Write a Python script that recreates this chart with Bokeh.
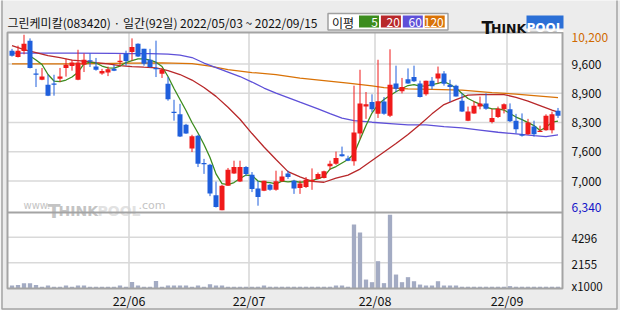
import numpy as np
from bokeh.plotting import figure
from bokeh.models import Range1d
from bokeh.core.properties import value
from bokeh.embed import file_html
from bokeh.resources import INLINE

# ---------------- data ----------------
title_text = "그린케미칼(083420) · 일간(92일) 2022/05/03 ~ 2022/09/15"
legend_title = "이평"
ma_periods = ["5", "20", "60", "120"]

opens = [9850, 9710, 9840, 10070, 9340, 9210, 9100, 9120, 9230, 9470,
         9510, 9210, 9540, 9630, 9500, 9350, 9370, 9450, 9600, 9780,
         9820, 10000, 9890, 9650, 9460, 9340, 9120, 8500, 8450, 8220,
         7700, 7980, 7370, 7340, 6670, 6340, 6880, 7150, 6970, 7290,
         7120, 6820, 6770, 6900, 6790, 6980, 7150, 6990, 6830, 6850,
         6980, 7030, 7050, 7310, 7360, 7570, 7480, 7420, 8030, 8620,
         8720, 8460, 8730, 8420, 9130, 8960, 9220, 9270, 9130, 8890,
         9190, 9240, 9350, 9100, 9080, 8750, 8310, 8470, 8620, 8690,
         8280, 8390, 8560, 8560, 8310, 8000, 8010, 8180, 8060, 8100,
         8100, 8530]
highs = [9890, 9960, 10200, 10120, 9450, 9470, 9320, 9320, 9470, 9670,
         9650, 9870, 9790, 9790, 9690, 9450, 9500, 9540, 9770, 9850,
         10120, 10010, 9890, 9890, 10070, 9470, 9270, 8770, 8680, 8240,
         8000, 8000, 7470, 7360, 6970, 6900, 7270, 7430, 7430, 7310,
         7180, 6980, 6990, 6920, 7210, 7210, 7210, 7010, 6990, 7070,
         7260, 7170, 7210, 7430, 7630, 7740, 7540, 9080, 9430, 8940,
         8890, 9650, 8830, 9880, 9520, 9250, 9460, 9520, 9190, 9190,
         9270, 9500, 9400, 9210, 9100, 8910, 8620, 8740, 8840, 8910,
         8570, 8620, 8690, 8690, 8460, 8470, 8350, 8310, 8200, 8450,
         8510, 8590]
lows = [9720, 9700, 9770, 9460, 9050, 9200, 8850, 8860, 9160, 9280,
        9410, 9200, 9380, 9490, 9410, 9320, 9290, 9400, 9500, 9520,
        9630, 9710, 9520, 9470, 9270, 9250, 8750, 8310, 7950, 8020,
        7620, 7290, 7140, 6650, 6400, 6340, 6880, 7140, 6960, 7090,
        6740, 6440, 6760, 6770, 6770, 6960, 7030, 6700, 6700, 6830,
        6790, 7020, 7040, 7230, 7340, 7520, 7420, 7320, 7910, 8350,
        8500, 8370, 8440, 8390, 8940, 8910, 9120, 9160, 8820, 8860,
        9000, 9130, 9080, 8720, 8840, 8500, 8300, 8460, 8560, 8550,
        8250, 8370, 8470, 8280, 8030, 7960, 8000, 7960, 8060, 8090,
        8030, 8370]
closes = [9740, 9850, 10000, 9470, 9320, 9280, 8860, 9100, 9280, 9540,
          9590, 9590, 9650, 9610, 9430, 9400, 9440, 9410, 9620, 9620,
          9930, 9720, 9560, 9490, 9440, 9430, 8780, 8480, 7960, 8030,
          7970, 7360, 7350, 6710, 6410, 6880, 7230, 7290, 7290, 7140,
          6810, 6630, 6990, 6790, 6980, 7080, 7070, 6820, 6930, 7010,
          7010, 7140, 7200, 7360, 7490, 7530, 7430, 8050, 8690, 8670,
          8560, 8740, 8460, 9100, 9010, 9050, 9130, 9180, 8830, 9190,
          9070, 9350, 9120, 9050, 8840, 8510, 8510, 8640, 8690, 8570,
          8370, 8570, 8670, 8300, 8120, 7980, 8270, 8010, 8080, 8420,
          8450, 8420]
volumes = [250, 300, 450, 450, 300, 150, 250, 150, 150, 250,
           150, 250, 250, 150, 150, 150, 150, 150, 250, 150,
           550, 250, 150, 150, 620, 150, 250, 250, 250, 250,
           150, 250, 150, 350, 250, 250, 150, 150, 150, 150,
           150, 150, 250, 150, 150, 150, 150, 150, 150, 150,
           150, 150, 150, 150, 250, 250, 150, 5360, 4690, 750,
           530, 2290, 450, 6190, 1170, 530, 950, 610, 330, 250,
           250, 610, 250, 250, 250, 150, 150, 150, 150, 150,
           150, 150, 150, 200, 150, 150, 150, 150, 150, 150,
           150, 150]

ma5_idx = list(range(3, 92))
ma5 = [9732, 9644, 9545, 9325, 9182, 9171, 9204, 9270, 9376, 9560,
       9596, 9578, 9512, 9472, 9468, 9512, 9589, 9633, 9670, 9670,
       9644, 9596, 9501, 9281, 9017, 8775, 8533, 8269, 8038, 7785,
       7499, 7140, 6927, 6905, 6949, 7037, 7114, 7103, 6982, 6956,
       6949, 6920, 6982, 6964, 6978, 6956, 6971, 6993, 7037, 7081,
       7246, 7301, 7378, 7455, 7580, 7895, 8203, 8478, 8665, 8775,
       8863, 8947, 9017, 9083, 9105, 9072, 9076, 9105, 9131, 9171,
       9105, 9028, 8907, 8797, 8731, 8676, 8606, 8570, 8570, 8544,
       8467, 8390, 8335, 8269, 8203, 8093, 8166, 8276, 8302]
ma20_idx = [0, 2, 4, 6, 8, 10, 12, 14, 16, 18, 20, 22, 24, 26, 28, 30, 32, 34,
            36, 38, 40, 42, 44, 46, 48, 50, 52, 54, 56, 58, 60, 62, 64, 66,
            68, 70, 72, 74, 76, 78, 80, 82, 84, 86, 88, 90, 91]
ma20 = [9963, 9875, 9809, 9743, 9699, 9644, 9622, 9589, 9560, 9523, 9501,
        9486, 9472, 9413, 9325, 9204, 9039, 8845, 8606, 8342, 8027, 7730,
        7455, 7190, 7075, 6976, 6956, 7048, 7114, 7246, 7433, 7620, 7807,
        8005, 8225, 8460, 8665, 8775, 8874, 8885, 8885, 8885, 8824, 8742,
        8643, 8544, 8496]
ma60_idx = [0, 10, 17, 20, 23, 26, 28, 30, 32, 34, 36, 38, 40, 42, 44, 46, 48,
            51, 53, 55, 57, 60, 63, 66, 69, 72, 75, 78, 81, 84, 87, 89, 91]
ma60 = [9794, 9794, 9790, 9787, 9787, 9776, 9754, 9699, 9578, 9479, 9380,
        9281, 9160, 9028, 8918, 8819, 8716, 8570, 8467, 8368, 8313, 8276,
        8247, 8218, 8218, 8181, 8152, 8104, 8056, 8020, 7983, 7961, 7998]
ma120_idx = [0, 10, 20, 25, 30, 33, 36, 40, 44, 48, 52, 56, 60, 62, 66, 70,
             75, 80, 84, 88, 91]
ma120 = [9560, 9560, 9578, 9582, 9567, 9512, 9435, 9369, 9325, 9248, 9193,
         9134, 9076, 9039, 9010, 8999, 8984, 8929, 8896, 8852, 8819]

month_start_idx = [20, 40, 61, 83]
month_labels = ["22/06", "22/07", "22/08", "22/09"]
price_grid_labels = ["9,600", "8,900", "8,300", "7,600", "7,000"]
vol_grid = [4296, 2155]
vol_unit_label = "x1000"

# ---------------- layout / style ----------------
W, H = 620, 310
PX0, PX1, PY0, PSEP, PY1 = 7, 562, 32, 212, 288
STEP, X0 = 6.0, 11.5
SY_TOP, SY_BOT = 34.25, 209.75
VOL_PX = 83.8

UP, DOWN = "#f01a1a", "#1f5fdc"
VOL_C = "#a3abc3"
MA_COLORS = ["#3c8c1e", "#b8282a", "#5e50d8", "#d97206"]
BORDER = "#a4a4a4"
GRID = "#d9d9d9"
BG = "#ececec"
FONT = value("Noto Sans CJK KR")

pmax, pmin = max(highs), min(lows)
k = (pmax - pmin) / (SY_BOT - SY_TOP)
n_grid = len(price_grid_labels) + 1
price_grid = [pmax - (pmax - pmin) * j / n_grid for j in range(1, n_grid)]

p = figure(width=W, height=H,
           x_range=Range1d(-X0 / STEP, (W - X0) / STEP),
           y_range=Range1d(pmin - (H - SY_BOT) * k, pmax + SY_TOP * k),
           x_axis_location=None, y_axis_location=None, min_border=0,
           toolbar_location=None, output_backend="svg",
           background_fill_color=BG, border_fill_color=BG,
           outline_line_color=None)
p.grid.visible = False
p.extra_x_ranges = {"sx": Range1d(0, W)}
p.extra_y_ranges = {"sy": Range1d(H, 0),
                    "vol": Range1d(-(H - PY1) * VOL_PX, PY1 * VOL_PX)}

S = dict(x_range_name="sx", y_range_name="sy")

# panel background
p.quad(left=PX0, right=PX1, top=PY0, bottom=PY1, fill_color="white",
       line_color=None, **S)

# watermark
wm = "#c4c4c4"
p.text(x=[23], y=[205], text=["www."], text_font=value("DejaVu Sans"),
       text_font_size="10px", text_color=wm, text_baseline="middle", **S)
p.text(x=[47], y=[210], text=["T"], text_font=value("DejaVu Sans"),
       text_font_style="bold", text_font_size="19px", text_color=wm,
       text_baseline="alphabetic", **S)
p.text(x=[58], y=[210], text=["HINK"], text_font=value("DejaVu Sans"),
       text_font_style="bold", text_font_size="14px", text_color=wm,
       text_baseline="alphabetic", **S)
p.text(x=[97], y=[210], text=["POOL"], text_font=value("DejaVu Sans"),
       text_font_style="bold", text_font_size="14px", text_color="#e2e2e2",
       text_baseline="alphabetic", **S)
p.text(x=[138], y=[205], text=[".com"], text_font=value("DejaVu Sans"),
       text_font_size="11px", text_color=wm, text_baseline="middle", **S)

# grids
p.segment(x0=PX0, x1=PX1, y0=price_grid, y1=price_grid, line_color=GRID,
          line_width=1.6, x_range_name="sx")
p.segment(x0=PX0, x1=PX1, y0=vol_grid, y1=vol_grid, line_color=GRID,
          line_width=1.6, x_range_name="sx", y_range_name="vol")
mx = [m - 0.5 for m in month_start_idx]
p.segment(x0=mx, x1=mx, y0=PY0, y1=PY1, line_color=GRID, line_width=1.6,
          y_range_name="sy")

idx = np.arange(len(opens))

# volume
p.vbar(x=idx, top=volumes, bottom=0, width=0.72, fill_color=VOL_C,
       line_color=None, y_range_name="vol")

# moving averages
for xs, ys, col in [(ma120_idx, ma120, MA_COLORS[3]), (ma60_idx, ma60, MA_COLORS[2]),
                    (ma20_idx, ma20, MA_COLORS[1]), (ma5_idx, ma5, MA_COLORS[0])]:
    p.line(xs, ys, line_color=col, line_width=1.3)

# candles
o = np.array(opens, float)
c = np.array(closes, float)
colors = np.where(c >= o, UP, DOWN).tolist()
btm = np.minimum(o, c)
top = np.maximum(np.maximum(o, c), btm + 1.3 * k)
p.segment(x0=idx, x1=idx, y0=lows, y1=highs, line_color=colors, line_width=1)
p.vbar(x=idx, top=top, bottom=btm, width=5 / STEP, fill_color=colors,
       line_color=None)

# panel borders
p.quad(left=PX0, right=PX1, top=PY0, bottom=PY1, fill_color=None,
       line_color=BORDER, line_width=2, **S)
p.segment(x0=PX0, x1=PX1, y0=PSEP, y1=PSEP, line_color=BORDER, line_width=2, **S)
p.quad(left=1.5, right=616.5, top=-5, bottom=308.5, fill_color=None,
       line_color=BORDER, line_width=1.5, **S)

# header
p.text(x=[7], y=[21.5], text=[title_text], text_font=FONT, text_font_size="12px",
       text_color="#111111", text_baseline="middle", **S)
p.quad(left=327.5, right=447.5, top=13, bottom=29.5, fill_color="white",
       line_color="#a0a0a0", line_width=1.5, **S)
p.text(x=[331.5], y=[21.5], text=[legend_title], text_font=FONT,
       text_font_size="12px", text_color="#111111", text_baseline="middle", **S)
lefts = [358.5 + 21.9 * j for j in range(len(ma_periods))]
p.quad(left=lefts, right=[l + 20 for l in lefts], top=15, bottom=27,
       fill_color=MA_COLORS, line_color=None, **S)
p.text(x=[l + 19 for l in lefts], y=21.5, text=ma_periods, text_font=FONT,
       text_font_size="12px", text_color="white", text_align="right",
       text_baseline="middle", **S)

# logo
p.text(x=[481], y=[27.8], text=["T"], text_font=value("DejaVu Sans"),
       text_font_style="bold", text_font_size="17px", text_color="#111111",
       text_baseline="alphabetic", **S)
p.text(x=[490.5], y=[27.8], text=["HINK"], text_font=value("DejaVu Sans"),
       text_font_style="bold", text_font_size="12.5px", text_color="#111111",
       text_baseline="alphabetic", **S)
p.quad(left=526, right=563, top=15, bottom=28, fill_color="#2b6fd6",
       line_color=None, **S)
p.text(x=[544.5], y=[27.3], text=["POOL"], text_font=value("DejaVu Sans"),
       text_font_style="bold", text_font_size="12px", text_color="white",
       text_align="center", text_baseline="alphabetic", **S)

# right labels
LX = PX1 + 9
p.text(x=LX, y=price_grid, text=price_grid_labels, text_font=FONT,
       text_font_size="12px", text_color="#111111", text_baseline="middle",
       x_range_name="sx")
p.text(x=[LX], y=[pmax], text=[f"{pmax:,}"], text_font=FONT, y_offset=3,
       text_font_size="12px", text_color="#d06a00", text_baseline="middle",
       x_range_name="sx")
p.text(x=[LX], y=[pmin], text=[f"{pmin:,}"], text_font=FONT, y_offset=-3,
       text_font_size="12px", text_color="#1515c8", text_baseline="middle",
       x_range_name="sx")
p.text(x=LX, y=vol_grid, text=[str(v) for v in vol_grid], text_font=FONT,
       y_offset=1.5, text_font_size="11.5px", text_color="#111111",
       text_baseline="middle", x_range_name="sx", y_range_name="vol")
p.text(x=[LX], y=[0], text=[vol_unit_label], text_font=FONT, y_offset=-2.3,
       text_font_size="11.5px", text_color="#111111", text_baseline="middle",
       x_range_name="sx", y_range_name="vol")

# x labels
p.text(x=mx, y=300, text=month_labels, text_font=FONT, text_font_size="12.5px",
       text_color="#111111", text_align="center", text_baseline="middle",
       y_range_name="sy")

open("out.html", "w").write(file_html(p, INLINE))
